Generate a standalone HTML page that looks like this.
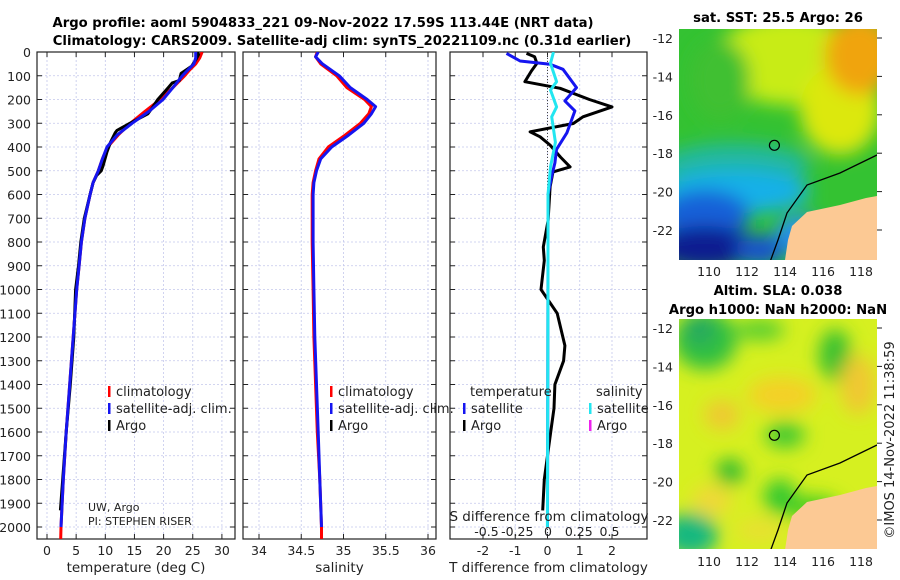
<!DOCTYPE html>
<html><head><meta charset="utf-8">
<style>
html,body{margin:0;padding:0;background:#fff;}
svg{display:block;font-family:"DejaVu Sans","Liberation Sans",sans-serif;}
</style></head>
<body>
<svg id="c" width="900" height="580" viewBox="0 0 900 580" xmlns="http://www.w3.org/2000/svg">
<defs>
  <filter id="blur1" x="-20%" y="-20%" width="140%" height="140%"><feGaussianBlur stdDeviation="9"/></filter>
  <clipPath id="clipTop"><rect x="679" y="29" width="198" height="231"/></clipPath>
  <clipPath id="clipBot"><rect x="679" y="319" width="198" height="230"/></clipPath>
  <clipPath id="clipP1"><rect x="37" y="52" width="198" height="487"/></clipPath>
  <clipPath id="clipP2"><rect x="243" y="52" width="193" height="487"/></clipPath>
  <clipPath id="clipP3"><rect x="450" y="52" width="197" height="487"/></clipPath>
</defs>
<g font-weight="bold" font-size="13.2" text-anchor="middle">
  <text x="323" y="27">Argo profile: aoml 5904833_221 09-Nov-2022 17.59S 113.44E (NRT data)</text>
  <text x="342" y="45">Climatology: CARS2009. Satellite-adj clim: synTS_20221109.nc (0.31d earlier)</text>
</g>
<g id="panels"></g>

<g>
  <text x="778" y="22" font-size="13.2" font-weight="bold" text-anchor="middle">sat. SST: 25.5 Argo: 26</text>
  <g clip-path="url(#clipTop)">
    <rect x="679" y="29" width="198" height="231" fill="#34c232"/>
    <g filter="url(#blur1)">
      <ellipse cx="790" cy="60" rx="75" ry="45" fill="#c8ec18"/>
      <ellipse cx="840" cy="110" rx="40" ry="45" fill="#dce810"/>
      <ellipse cx="860" cy="55" rx="35" ry="40" fill="#f0a408"/>
      <ellipse cx="720" cy="80" rx="30" ry="40" fill="#40c030"/>
      <ellipse cx="735" cy="165" rx="75" ry="22" fill="#20b8a0"/>
      <ellipse cx="735" cy="192" rx="75" ry="22" fill="#18b0e8"/>
      <ellipse cx="705" cy="215" rx="45" ry="25" fill="#1860d8"/>
      <ellipse cx="705" cy="248" rx="50" ry="22" fill="#0a1a90"/>
      <ellipse cx="800" cy="235" rx="25" ry="20" fill="#2890f0"/>
      <ellipse cx="760" cy="250" rx="25" ry="15" fill="#1850d0"/>
    </g>
    <polygon points="785,260 788,240 792,226 807,212 840,205 866,198 877,196 877,260" fill="#fcc994"/>
    <polyline points="770,262 778,240 787,213 807,185 840,173 877,155" fill="none" stroke="#000" stroke-width="1.3"/>
    <circle cx="774.4" cy="145.3" r="5" fill="none" stroke="#000" stroke-width="1.2"/>
  </g>
  <g id="sstAxes"></g>
</g>

<g>
  <text x="778" y="295" font-size="13.2" font-weight="bold" text-anchor="middle">Altim. SLA: 0.038</text>
  <text x="778" y="314" font-size="13.2" font-weight="bold" text-anchor="middle">Argo h1000: NaN h2000: NaN</text>
  <g clip-path="url(#clipBot)">
    <rect x="679" y="319" width="198" height="230" fill="#d6f020"/>
    <g filter="url(#blur1)">
      <ellipse cx="705" cy="340" rx="32" ry="30" fill="#30c040"/>
      <ellipse cx="700" cy="330" rx="15" ry="15" fill="#28a860"/>
      <ellipse cx="760" cy="330" rx="25" ry="10" fill="#50cc30"/>
      <ellipse cx="835" cy="355" rx="16" ry="26" fill="#34c030"/>
      <ellipse cx="858" cy="385" rx="18" ry="30" fill="#f0c830"/>
      <ellipse cx="782" cy="395" rx="35" ry="18" fill="#f4d028"/>
      <ellipse cx="722" cy="415" rx="18" ry="15" fill="#f0c830"/>
      <ellipse cx="785" cy="435" rx="20" ry="13" fill="#40c830"/>
      <ellipse cx="730" cy="472" rx="14" ry="13" fill="#28b830"/>
      <ellipse cx="780" cy="497" rx="16" ry="18" fill="#30c830"/>
      <ellipse cx="712" cy="500" rx="20" ry="15" fill="#f0d838"/>
      <ellipse cx="690" cy="535" rx="28" ry="22" fill="#18b880"/>
      <ellipse cx="812" cy="508" rx="28" ry="12" fill="#40cc20"/>
      <ellipse cx="760" cy="530" rx="25" ry="12" fill="#e8e030"/>
    </g>
    <polygon points="785,550 788,530 792,516 807,502 840,495 866,488 877,486 877,550" fill="#fcc994"/>
    <polyline points="770,552 778,530 787,503 807,475 840,463 877,445" fill="none" stroke="#000" stroke-width="1.3"/>
    <circle cx="774.4" cy="435.3" r="5" fill="none" stroke="#000" stroke-width="1.2"/>
  </g>
  <g id="slaAxes"></g>
</g>
<text transform="translate(894,440) rotate(-90)" font-size="13" text-anchor="middle" fill="#222">©IMOS 14-Nov-2022 11:38:59</text>
</svg>

<script>
// ---------- data ----------
const depthTicks = [0,100,200,300,400,500,600,700,800,900,1000,1100,1200,1300,1400,1500,1600,1700,1800,1900,2000];
const tempTicks = [0,5,10,15,20,25,30];
const salTicks = [34,34.5,35,35.5,36];
const salTickLabels = ["34","34.5","35","35.5","36"];
const dTTicks = [-2,-1,0,1,2];
const dSTicks = [-0.5,-0.25,0,0.25,0.5];
const dSTickLabels = ["-0.5","-0.25","0","0.25","0.5"];

const climDepth = [0,25,50,75,100,150,200,250,300,350,400,450,500,550,600,700,800,900,1000,1200,1400,1600,1800,2000,2050];
const climTemp  = [26.6,26.2,25.5,24.5,23.6,21.6,19.4,16.8,14.3,12.2,10.4,9.5,8.8,7.9,7.4,6.5,5.9,5.5,5.1,4.5,3.9,3.3,2.8,2.4,2.35];
const satDepth  = [0,25,50,75,100,150,200,250,300,350,400,450,500,550,600,700,800,900,1000,1200,1400,1600,1800,2000];
const satTemp   = [25.5,25.5,25.2,24.2,23.2,21.6,19.9,17.5,14.6,12.0,10.3,9.5,8.8,7.9,7.4,6.5,5.9,5.5,5.1,4.5,3.9,3.3,2.8,2.4];
const argoDepth = [0,10,30,60,90,120,130,150,200,230,260,300,330,340,380,420,480,500,520,550,600,700,800,900,1000,1200,1400,1600,1800,1930];
const argoTemp  = [25.8,26.0,25.6,24.8,23.0,22.7,21.5,20.8,19.0,18.2,17.3,14.2,12.0,11.7,10.9,10.3,9.6,9.3,8.5,7.9,7.4,6.4,5.8,5.4,4.9,4.6,4.0,3.3,2.7,2.3];

const salDepth  = [0,20,50,100,150,200,230,260,300,350,400,450,500,550,600,800,1000,1200,1400,1600,1800,2000,2050];
const climSal   = [34.69,34.67,34.73,34.92,35.04,35.25,35.33,35.30,35.20,35.02,34.82,34.71,34.67,34.64,34.63,34.63,34.64,34.65,34.67,34.69,34.72,34.74,34.74];
const satSal    = [34.70,34.67,34.75,34.95,35.08,35.28,35.38,35.33,35.24,35.06,34.86,34.73,34.68,34.65,34.64,34.64,34.65,34.66,34.68,34.70,34.72,34.74,34.74];

const argoDTDepth = [6,20,48,80,125,153,200,231,273,301,336,357,392,442,484,505,568,709,821,878,1000,1100,1236,1300,1400,1500,1600,1800,1930];
const argoDT      = [-0.65,-0.4,-0.33,-0.5,-0.7,0.39,1.3,2.0,1.1,0.8,-0.54,-0.23,0.08,0.4,0.7,0.17,0.08,0.02,-0.13,-0.1,-0.2,0.3,0.54,0.5,0.23,0.2,0.1,-0.1,-0.15];
const satDTDepth  = [6,38,52,73,150,206,248,340,410,467,523,600,2000];
const satDT       = [-1.27,-0.85,0.08,0.48,0.9,0.54,0.85,0.6,0.28,0.23,0.13,0.02,0.0];
const satDSDepth  = [0,48,125,160,231,273,380,484,600,1000,2000];
const satDS       = [0.045,0.02,0.07,0.02,0.07,0.03,0.06,0.02,0.0,0.0,-0.005];

const lonTicks = [110,112,114,116,118];
const latTicks = [-12,-14,-16,-18,-20,-22];

// ---------- scales ----------
const yD = d => 52 + d*0.2375;
const xT = t => 47 + 5.83*t;
const xS = s => 259 + 84.5*(s-34);
const xdT = v => 547.5 + 32.25*v;
const xdS = v => 548 + 123*v;
const xLon = l => 709 + 19*(l-110);
const yLat = l => 38 + 19.2*(-12-l);

const NS = "http://www.w3.org/2000/svg";
const root = document.getElementById('panels');
function mk(tag, attrs, parent){
  const e = document.createElementNS(NS, tag);
  for (const k in attrs) e.setAttribute(k, attrs[k]);
  (parent||root).appendChild(e);
  return e;
}
function txt(x,y,s,size,anchor,parent){
  const t = mk('text',{x:x,y:y,'font-size':size,'text-anchor':anchor||'middle',fill:'#222'},parent);
  t.textContent = s;
  return t;
}
function line(xs, ys, color, w, clip, name){
  const pts = xs.map((x,i)=>x.toFixed(1)+','+ys[i].toFixed(1)).join(' ');
  const p = mk('polyline',{points:pts,fill:'none',stroke:color,'stroke-width':w,'stroke-linejoin':'round','clip-path':'url(#'+clip+')'});
  
  
  return p;
}

const panels = [
  {x0:37,x1:235,clip:'clipP1',name:'temperature-panel',ticks:tempTicks,labels:tempTicks.map(String),sc:xT,title:'temperature (deg C)'},
  {x0:243,x1:436,clip:'clipP2',name:'salinity-panel',ticks:salTicks,labels:salTickLabels,sc:xS,title:'salinity'},
  {x0:450,x1:647,clip:'clipP3',name:'difference-panel',ticks:dTTicks,labels:dTTicks.map(String),sc:xdT,title:'T difference from climatology'}
];
const yTop=52, yBot=539;
panels.forEach((p,pi)=>{
  const g = mk('g',{});
  
  
  mk('rect',{x:p.x0,y:yTop,width:p.x1-p.x0,height:yBot-yTop,fill:'#fff'},g);
  depthTicks.forEach(d=>{
    const gl = mk('line',{x1:p.x0,x2:p.x1,y1:yD(d),y2:yD(d),stroke:'#c4c8ec','stroke-width':0.8,'stroke-dasharray':'2,2'},g);
    
    
    mk('line',{x1:p.x0,x2:p.x0+5,y1:yD(d),y2:yD(d),stroke:'#222','stroke-width':1},g);
    mk('line',{x1:p.x1-5,x2:p.x1,y1:yD(d),y2:yD(d),stroke:'#222','stroke-width':1},g);
  });
  p.ticks.forEach((t,i)=>{
    const x = p.sc(t);
    const gl = mk('line',{x1:x,x2:x,y1:yTop,y2:yBot,stroke:'#c4c8ec','stroke-width':0.8,'stroke-dasharray':'2,2'},g);
    
    
    mk('line',{x1:x,x2:x,y1:yBot-5,y2:yBot,stroke:'#222','stroke-width':1},g);
    mk('line',{x1:x,x2:x,y1:yTop,y2:yTop+5,stroke:'#222','stroke-width':1},g);
    const tl = txt(x,555,p.labels[i],12.5,'middle',g);
    
    
  });
  const at = txt((p.x0+p.x1)/2,572,p.title,13.5,'middle',g);
  
  
  const fr = mk('rect',{x:p.x0,y:yTop,width:p.x1-p.x0,height:yBot-yTop,fill:'none',stroke:'#222','stroke-width':1.2},g);
  
  
});
depthTicks.forEach(d=>{
  const t = txt(31,yD(d)+5,String(d),12.5,'end');
  
  
});

line(climTemp.map(xT), climDepth.map(yD), '#f00', 3, 'clipP1', 'temperature-climatology-line');
line(argoTemp.map(xT), argoDepth.map(yD), '#000', 3, 'clipP1', 'temperature-argo-line');
line(satTemp.map(xT), satDepth.map(yD), '#1515f0', 3, 'clipP1', 'temperature-satellite-line');
line(climSal.map(xS), salDepth.map(yD), '#f00', 3, 'clipP2', 'salinity-climatology-line');
line(satSal.slice(0,-1).map(xS), salDepth.slice(0,-1).map(yD), '#1515f0', 3, 'clipP2', 'salinity-satellite-line');
const zl = mk('line',{x1:xdT(0),x2:xdT(0),y1:yTop,y2:yBot,stroke:'#444','stroke-width':1,'stroke-dasharray':'1,2'});


line(argoDT.map(xdT), argoDTDepth.map(yD), '#000', 3, 'clipP3', 'argo-t-difference-line');
line(satDT.map(xdT), satDTDepth.map(yD), '#1515f0', 3, 'clipP3', 'satellite-t-difference-line');
line(satDS.map(xdS), satDSDepth.map(yD), '#22e6f0', 3, 'clipP3', 'satellite-s-difference-line');

const st = txt(549,521,'S difference from climatology',13.5,'middle');


dSTicks.forEach((v,i)=>{
  const t = txt(xdS(v),536,dSTickLabels[i],12.5,'middle');
  
  
});

function legendEntry(x,y,color,label,name){
  const g = mk('g',{});
  
  
  mk('rect',{x:x,y:y-10,width:2.5,height:11,fill:color},g);
  txt(x+8,y,label,13,'start',g);
}
legendEntry(108,396,'#f00','climatology','legend-t-climatology');
legendEntry(108,413,'#1515f0','satellite-adj. clim.','legend-t-satellite');
legendEntry(108,430,'#000','Argo','legend-t-argo');
legendEntry(330,396,'#f00','climatology','legend-s-climatology');
legendEntry(330,413,'#1515f0','satellite-adj. clim.','legend-s-satellite');
legendEntry(330,430,'#000','Argo','legend-s-argo');
const lt = txt(470,396,'temperature',13,'start');


const ls = txt(596,396,'salinity',13,'start');


legendEntry(463,413,'#1515f0','satellite','legend-dt-satellite');
legendEntry(463,430,'#000','Argo','legend-dt-argo');
legendEntry(589,413,'#22e6f0','satellite','legend-ds-satellite');
legendEntry(589,430,'#ee22ee','Argo','legend-ds-argo');

const c1 = txt(88,511,'UW, Argo',11,'start');


const c2 = txt(88,525,'PI: STEPHEN RISER',11,'start');



function mapAxes(gid, off, bottom){
  const g = document.getElementById(gid);
  latTicks.forEach(l=>{
    const y = yLat(l)+off;
    const t = txt(673,y+5,String(l),12.5,'end',g);
    
    
    mk('line',{x1:877,x2:882,y1:y,y2:y,stroke:'#222','stroke-width':1},g);
  });
  lonTicks.forEach(l=>{
    const x = xLon(l);
    const t = txt(x,bottom+16,String(l),12.5,'middle',g);
    
    
  });
}
mapAxes('sstAxes',0,260);
mapAxes('slaAxes',290,550);
</script>
</body></html>
